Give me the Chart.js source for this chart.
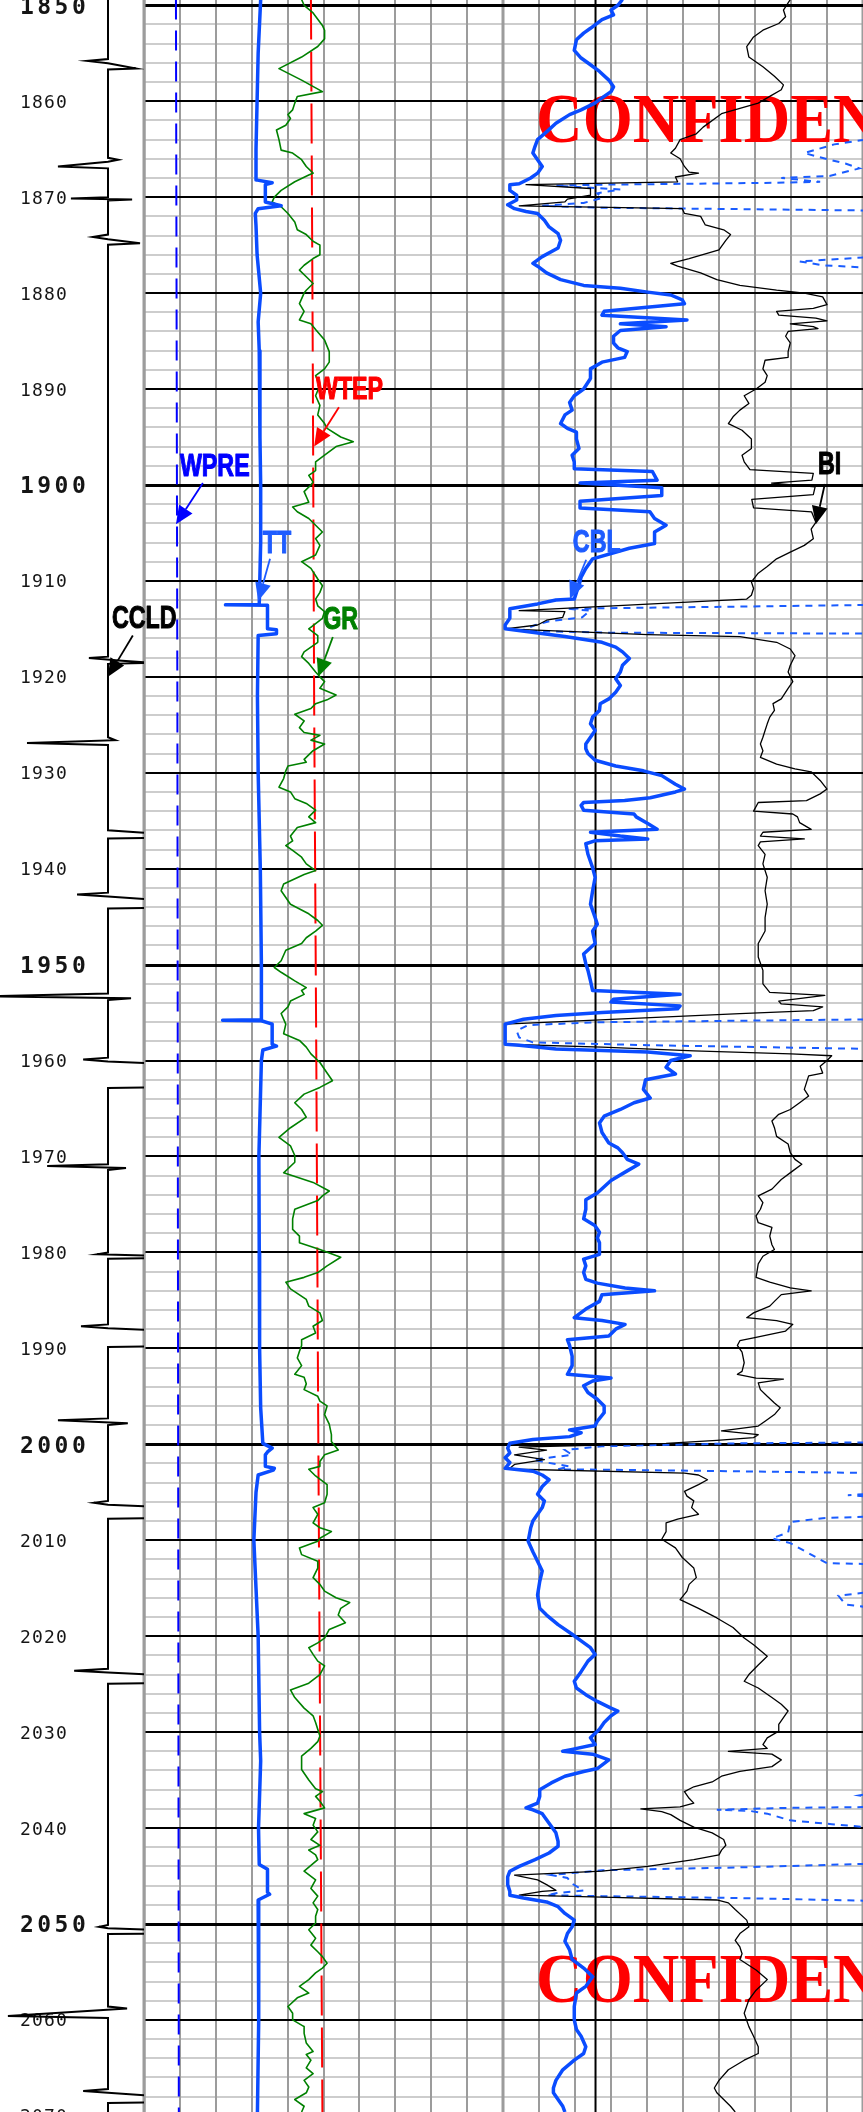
<!DOCTYPE html>
<html>
<head>
<meta charset="utf-8">
<script src="https://cdn.jsdelivr.net/npm/chart.js@4.4.1/dist/chart.umd.min.js"></script>
<style>
  html, body { margin: 0; padding: 0; background: #fff; }
  #wrap { position: relative; width: 863px; height: 2112px; overflow: hidden; background: #fff; }
  #wrap canvas { position: absolute; top: 0; }
  #depthTrack { left: 0; z-index: 2; }
  #track1 { left: 144px; z-index: 1; }
  #track2 { left: 503px; z-index: 1; }
</style>
</head>
<body>
<div id="wrap">
  <canvas id="depthTrack" width="204" height="2112"></canvas>
  <canvas id="track1" width="359" height="2112"></canvas>
  <canvas id="track2" width="360" height="2112"></canvas>
</div>
<script>
// depth window shown on the sheet (ft)
const DEPTH_TOP = 1849.45;
const DEPTH_BOTTOM = 2069.6;
const depthTicks = [1850, 1860, 1870, 1880, 1890, 1900, 1910, 1920, 1930, 1940, 1950,
  1960, 1970, 1980, 1990, 2000, 2010, 2020, 2030, 2040, 2050, 2060, 2070];

// curves: [depth, value] pairs, value in grid divisions of the track (0..10)
const wpreLog = [[1849.4, 0.89], [1886, 0.91], [1923, 0.93], [1960, 0.94], [1996, 0.95], [2033, 0.96], [2069.6, 0.97]];
const wtepLog = [[1849.4, 4.65], [1886, 4.70], [1923, 4.74], [1960, 4.80], [1996, 4.85], [2033, 4.91], [2069.6, 4.97]];

const ttLog = [[1849.4, 3.25], [1855, 3.18], [1860, 3.15], [1865, 3.12], [1868.2, 3.12], [1868.5, 3.57], [1868.7, 3.38],
  [1870.5, 3.38], [1870.9, 3.82], [1871.2, 3.18], [1871.7, 3.10], [1873, 3.12], [1876, 3.15], [1880, 3.25], [1883, 3.18],
  [1886, 3.21], [1895, 3.23], [1900, 3.25], [1906, 3.25], [1912.45, 3.21], [1912.5, 2.27], [1912.55, 3.44], [1915, 3.44],
  [1915.1, 3.69], [1915.5, 3.69], [1915.7, 3.18], [1922, 3.16], [1930, 3.18], [1940, 3.24], [1950, 3.27], [1955.75, 3.27],
  [1955.8, 2.19], [1955.85, 3.27], [1956.2, 3.57], [1958.3, 3.57], [1958.5, 3.69], [1958.9, 3.31], [1960, 3.27], [1970, 3.20],
  [1980, 3.21], [1990, 3.22], [1996.2, 3.25], [1999.9, 3.31], [2000.4, 3.57], [2000.8, 3.44], [2001.1, 3.38], [2002.3, 3.38],
  [2002.5, 3.63], [2002.7, 3.60], [2003.2, 3.18], [2005, 3.12], [2010, 3.06], [2015, 3.12], [2020, 3.18], [2030, 3.22],
  [2033, 3.25], [2040, 3.19], [2043.8, 3.21], [2044.3, 3.44], [2046.7, 3.44], [2046.9, 3.50], [2047.5, 3.18], [2050, 3.20],
  [2060, 3.19], [2069.6, 3.16]];

const grLog = [[1849.4, 4.39], [1850.0, 4.46], [1850.8, 4.71], [1852.1, 4.97], [1852.6, 5.03], [1853.5, 5.03], [1854.3, 4.84],
  [1855.4, 4.39], [1856.6, 3.76], [1857.8, 4.39], [1859.0, 4.97], [1859.5, 4.27], [1860.2, 4.20], [1860.9, 4.14], [1861.4, 4.01],
  [1861.8, 4.08], [1862.5, 3.95], [1863.0, 3.69], [1864.0, 3.76], [1865.1, 3.82], [1865.4, 4.14], [1866.1, 4.39], [1866.8, 4.52],
  [1867.5, 4.71], [1867.7, 4.59], [1868.4, 4.20], [1869.3, 3.82], [1870.0, 3.63], [1870.5, 3.57], [1871.0, 3.82], [1871.7, 4.01],
  [1872.6, 4.20], [1873.4, 4.27], [1873.9, 4.52], [1874.6, 4.71], [1875.0, 4.90], [1876.0, 4.90], [1876.4, 4.71], [1877.1, 4.46],
  [1877.6, 4.33], [1878.3, 4.52], [1879.0, 4.71], [1879.7, 4.52], [1880.0, 4.46], [1881.1, 4.33], [1881.9, 4.46], [1882.8, 4.33],
  [1883.2, 4.65], [1883.8, 4.78], [1884.9, 5.03], [1886.1, 5.16], [1887.2, 5.16], [1887.9, 5.03], [1888.6, 4.78], [1889.6, 4.90],
  [1890.7, 4.78], [1891.7, 4.90], [1892.7, 4.84], [1893.6, 5.03], [1894.1, 5.10], [1895.0, 5.48], [1895.5, 5.83], [1896.0, 5.35],
  [1896.9, 5.03], [1897.6, 4.78], [1898.5, 4.78], [1899.0, 4.59], [1899.7, 4.71], [1900.0, 4.65], [1900.7, 4.46], [1901.8, 4.59],
  [1902.3, 4.14], [1902.8, 4.27], [1903.5, 4.59], [1904.2, 4.78], [1904.9, 4.97], [1905.6, 4.78], [1906.3, 4.90], [1907.3, 4.78],
  [1908.0, 4.39], [1908.7, 4.65], [1909.8, 4.84], [1910.5, 4.97], [1911.2, 4.90], [1911.9, 4.78], [1912.6, 4.84], [1913.2, 5.03],
  [1913.9, 4.97], [1915.0, 4.59], [1915.7, 4.84], [1916.4, 4.84], [1917.4, 4.46], [1917.9, 4.39], [1918.6, 4.59], [1919.5, 4.78],
  [1920.0, 4.90], [1920.5, 5.03], [1921.2, 4.90], [1921.9, 5.35], [1922.4, 5.10], [1922.8, 4.78], [1923.3, 4.65], [1923.9, 4.20],
  [1924.6, 4.46], [1925.3, 4.33], [1925.8, 4.46], [1926.1, 4.90], [1926.6, 4.65], [1927.0, 5.03], [1927.7, 4.71], [1928.6, 4.46],
  [1928.9, 4.52], [1929.3, 4.01], [1929.8, 3.95], [1930.6, 3.89], [1931.5, 3.76], [1932.0, 4.08], [1932.7, 4.20], [1933.2, 4.52],
  [1933.9, 4.78], [1934.6, 4.59], [1935.2, 4.78], [1935.7, 4.27], [1936.6, 4.08], [1937.1, 4.14], [1937.6, 3.95], [1938.1, 4.14],
  [1938.8, 4.39], [1939.5, 4.52], [1940.2, 4.78], [1940.6, 4.46], [1941.6, 3.89], [1942.3, 3.82], [1943.7, 4.08], [1944.7, 4.59],
  [1945.4, 4.84], [1945.9, 4.97], [1946.5, 4.78], [1947.2, 4.52], [1947.8, 4.39], [1948.5, 3.95], [1949.6, 3.82], [1950.3, 3.63],
  [1950.8, 3.82], [1951.7, 4.20], [1952.4, 4.52], [1952.7, 4.39], [1953.1, 4.46], [1953.8, 4.08], [1954.4, 4.01], [1955.1, 3.82],
  [1956.2, 3.95], [1957.2, 3.89], [1957.9, 4.33], [1958.6, 4.52], [1959.3, 4.65], [1960.2, 4.90], [1961.3, 5.10], [1962.1, 5.25],
  [1962.8, 4.90], [1963.5, 4.46], [1964.4, 4.20], [1965.1, 4.39], [1965.9, 4.52], [1967.0, 4.08], [1968.0, 3.76], [1968.9, 4.08],
  [1969.9, 4.20], [1970.6, 4.20], [1971.7, 3.89], [1972.7, 4.71], [1973.6, 5.16], [1974.1, 4.97], [1974.6, 4.84], [1975.5, 4.20],
  [1976.5, 4.14], [1977.6, 4.14], [1978.3, 4.33], [1979.0, 4.33], [1979.7, 4.90], [1980.5, 5.48], [1981.4, 5.10], [1982.1, 4.84],
  [1982.6, 4.46], [1983.1, 3.95], [1983.8, 4.08], [1984.9, 4.52], [1985.6, 4.59], [1986.3, 4.90], [1987.1, 4.97], [1987.7, 4.71],
  [1988.4, 4.78], [1989.1, 4.39], [1989.7, 4.39], [1990.3, 4.33], [1991.0, 4.27], [1991.8, 4.39], [1992.7, 4.20], [1993.0, 4.46],
  [1993.7, 4.52], [1994.3, 4.46], [1995.0, 4.84], [1995.5, 4.90], [1996.0, 5.10], [1996.9, 5.03], [1997.9, 5.16], [1999.0, 5.22],
  [1999.7, 5.22], [2000.6, 5.41], [2001.1, 5.03], [2001.8, 4.90], [2002.3, 4.90], [2002.6, 4.59], [2003.3, 4.78], [2004.2, 5.10],
  [2005.2, 5.10], [2006.1, 5.03], [2006.6, 4.71], [2007.3, 4.84], [2008.2, 4.71], [2008.7, 4.90], [2009.1, 5.22], [2009.8, 4.90],
  [2010.1, 4.84], [2010.8, 4.33], [2011.5, 4.39], [2012.2, 4.84], [2012.9, 4.84], [2013.9, 4.71], [2014.6, 4.90], [2015.3, 5.03],
  [2016.0, 5.35], [2016.5, 5.73], [2017.1, 5.48], [2017.8, 5.41], [2018.6, 5.61], [2019.3, 5.16], [2020.2, 5.03], [2020.7, 4.84],
  [2021.2, 4.59], [2021.9, 4.71], [2022.6, 4.84], [2023.1, 5.03], [2024.0, 4.90], [2024.9, 4.59], [2025.6, 4.08], [2026.4, 4.20],
  [2027.5, 4.46], [2028.3, 4.71], [2029.0, 4.78], [2029.7, 4.84], [2030.4, 4.90], [2031.0, 4.84], [2031.7, 4.65], [2032.5, 4.39],
  [2033.9, 4.39], [2035.0, 4.59], [2035.9, 4.78], [2036.2, 4.97], [2036.7, 4.78], [2037.2, 4.90], [2037.9, 5.03], [2038.5, 4.46],
  [2039.0, 4.78], [2039.7, 4.71], [2040.4, 4.84], [2041.2, 4.65], [2041.8, 4.90], [2042.3, 4.59], [2042.8, 4.78], [2043.3, 4.84],
  [2044.5, 4.46], [2045.4, 4.78], [2046.3, 4.65], [2047.1, 4.84], [2047.8, 4.71], [2048.5, 4.84], [2049.2, 4.78], [2049.9, 4.78],
  [2050.6, 4.59], [2051.5, 4.78], [2052.2, 4.65], [2052.9, 4.84], [2053.4, 4.97], [2054.1, 5.10], [2054.6, 4.97], [2055.1, 4.78],
  [2055.8, 4.59], [2056.5, 4.33], [2057.2, 4.59], [2057.7, 4.27], [2058.6, 4.01], [2059.3, 4.14], [2060.0, 4.14], [2060.7, 4.46],
  [2061.4, 4.46], [2062.4, 4.52], [2063.3, 4.71], [2063.6, 4.52], [2064.2, 4.65], [2065.0, 4.52], [2065.6, 4.71], [2066.3, 4.46],
  [2067.0, 4.59], [2067.6, 4.52], [2068.3, 4.20], [2069.0, 4.46], [2069.6, 4.39]];

const cblLog = [[1849.4, 3.32], [1850.0, 3.19], [1850.5, 3.00], [1851.0, 3.07], [1851.5, 2.75], [1852.4, 2.43], [1852.9, 2.24],
  [1853.6, 2.04], [1854.7, 1.98], [1855.5, 2.17], [1856.2, 2.43], [1856.9, 2.68], [1857.8, 2.94], [1858.5, 3.07], [1859.0, 3.00],
  [1859.5, 2.81], [1860.2, 2.55], [1860.9, 2.17], [1861.4, 1.85], [1862.3, 1.47], [1863.2, 1.21], [1864.0, 0.96], [1864.7, 0.89],
  [1865.4, 0.83], [1866.1, 0.96], [1866.8, 1.09], [1867.5, 0.96], [1868.0, 0.77], [1868.6, 0.45], [1868.7, 0.19], [1869.3, 0.19],
  [1869.8, 0.38], [1870.3, 0.38], [1870.8, 0.13], [1871.2, 0.32], [1871.5, 0.64], [1871.7, 0.96], [1872.4, 1.15], [1873.1, 1.28],
  [1873.8, 1.53], [1874.5, 1.60], [1875.3, 1.53], [1876.2, 1.09], [1876.9, 0.83], [1877.2, 0.96], [1877.9, 1.21], [1878.6, 1.60],
  [1879.2, 2.24], [1879.5, 3.26], [1879.9, 4.02], [1880.2, 4.66], [1880.7, 4.98], [1881.1, 5.04], [1881.9, 2.81], [1882.3, 2.75],
  [1882.8, 5.11], [1883.2, 3.26], [1883.5, 4.53], [1883.9, 3.26], [1884.5, 3.07], [1885.2, 3.07], [1885.7, 3.19], [1886.1, 3.45],
  [1886.7, 3.38], [1887.2, 2.75], [1887.9, 2.43], [1888.9, 2.43], [1890.0, 2.24], [1890.7, 1.98], [1891.4, 1.85], [1892.2, 1.92],
  [1892.7, 1.72], [1893.6, 1.60], [1894.1, 1.79], [1894.5, 2.04], [1895.2, 2.04], [1896.2, 2.11], [1896.9, 1.92], [1897.6, 1.98],
  [1898.3, 1.98], [1898.6, 4.15], [1899.5, 4.28], [1899.8, 2.14], [1900.3, 4.41], [1901.1, 4.41], [1901.7, 2.14], [1902.4, 2.14],
  [1902.8, 4.08], [1903.5, 4.21], [1904.2, 4.53], [1904.9, 4.21], [1906.1, 4.21], [1906.6, 3.51], [1907.7, 2.49], [1908.7, 2.30],
  [1909.6, 2.17], [1910.5, 2.11], [1911.2, 2.04], [1911.9, 1.98], [1912.0, 1.47], [1912.4, 0.96], [1912.9, 0.19], [1913.4, 0.19],
  [1913.9, 0.19], [1914.6, 0.06], [1915.0, 0.06], [1915.3, 0.70], [1915.8, 1.72], [1916.4, 2.75], [1916.9, 3.13], [1917.4, 3.32],
  [1918.1, 3.51], [1918.8, 3.32], [1919.5, 3.26], [1920.2, 3.13], [1920.9, 3.26], [1921.6, 3.13], [1922.3, 2.94], [1922.8, 2.70],
  [1923.5, 2.68], [1924.2, 2.49], [1924.9, 2.43], [1925.6, 2.56], [1926.3, 2.43], [1927.0, 2.30], [1927.5, 2.30], [1928.0, 2.36],
  [1928.7, 2.56], [1929.3, 3.13], [1929.8, 3.90], [1930.3, 4.41], [1931.2, 4.79], [1931.7, 5.04], [1932.0, 4.79], [1932.6, 4.09],
  [1932.9, 3.38], [1933.1, 2.24], [1933.4, 2.17], [1933.9, 2.24], [1934.3, 3.64], [1934.6, 3.70], [1935.3, 4.02], [1935.9, 4.28],
  [1936.2, 2.43], [1936.6, 3.26], [1936.9, 4.02], [1937.1, 2.55], [1937.4, 2.30], [1938.5, 2.36], [1939.9, 2.49], [1940.9, 2.56],
  [1942.3, 2.49], [1943.7, 2.43], [1945.1, 2.56], [1945.8, 2.62], [1946.5, 2.49], [1947.8, 2.56], [1948.9, 2.24], [1949.9, 2.30],
  [1950.6, 2.36], [1951.7, 2.43], [1952.7, 2.49], [1953.1, 4.92], [1953.6, 3.07], [1953.9, 3.00], [1954.3, 4.92], [1954.6, 4.85],
  [1955.0, 2.75], [1955.3, 1.47], [1955.7, 0.57], [1956.2, 0.06], [1957.2, 0.06], [1958.3, 0.06], [1958.4, 0.45], [1958.8, 1.47],
  [1959.1, 4.02], [1959.5, 5.20], [1960.0, 4.66], [1960.7, 4.53], [1961.4, 4.79], [1962.0, 3.96], [1963.0, 3.90], [1963.9, 4.09],
  [1964.4, 3.64], [1965.1, 3.26], [1965.8, 2.81], [1966.5, 2.68], [1967.5, 2.75], [1968.6, 2.94], [1969.1, 3.19], [1969.6, 3.32],
  [1970.3, 3.45], [1970.8, 3.77], [1971.5, 3.45], [1972.5, 3.00], [1973.8, 2.62], [1974.5, 2.30], [1975.5, 2.30], [1976.5, 2.24],
  [1977.2, 2.55], [1977.9, 2.68], [1978.5, 2.62], [1979.0, 2.68], [1980.2, 2.68], [1980.7, 2.24], [1981.4, 2.30], [1982.1, 2.24],
  [1982.8, 2.30], [1983.2, 2.62], [1983.7, 3.39], [1984.0, 4.21], [1984.4, 2.75], [1985.1, 2.68], [1985.9, 2.30], [1986.8, 1.98],
  [1987.1, 2.75], [1987.5, 3.39], [1988.0, 3.13], [1988.7, 2.94], [1989.1, 1.79], [1989.7, 1.85], [1990.8, 1.92], [1991.8, 1.92],
  [1992.7, 1.79], [1993.1, 3.00], [1993.4, 2.49], [1993.9, 2.24], [1994.6, 2.36], [1995.3, 2.62], [1996.0, 2.81], [1996.7, 2.81],
  [1997.6, 2.62], [1998.1, 2.55], [1998.5, 1.85], [1998.8, 2.17], [1999.2, 1.85], [1999.5, 0.83], [1999.9, 0.19], [2000.4, 0.13],
  [2000.9, 0.19], [2001.4, 0.06], [2001.9, 0.19], [2002.5, 0.06], [2002.8, 0.83], [2003.2, 1.09], [2003.7, 1.28], [2004.4, 1.09],
  [2005.2, 0.96], [2005.9, 1.15], [2006.6, 1.09], [2007.3, 0.96], [2008.0, 0.83], [2008.7, 0.77], [2010.1, 0.70], [2011.2, 0.83],
  [2012.2, 0.96], [2013.2, 1.09], [2014.3, 1.02], [2015.7, 0.96], [2017.1, 1.02], [2017.8, 1.21], [2018.8, 1.53], [2019.8, 1.92],
  [2020.5, 2.17], [2021.2, 2.43], [2021.9, 2.56], [2022.6, 2.36], [2023.7, 2.17], [2024.7, 1.98], [2025.4, 2.04], [2026.1, 2.30],
  [2026.8, 2.62], [2027.5, 3.00], [2027.8, 3.19], [2028.3, 3.00], [2029.0, 2.81], [2029.7, 2.68], [2030.6, 2.43], [2031.3, 2.56],
  [2031.8, 1.92], [2032.0, 1.66], [2032.3, 2.49], [2032.9, 2.94], [2033.8, 2.62], [2034.1, 2.24], [2034.6, 1.72], [2035.3, 1.34],
  [2036.0, 1.02], [2036.7, 1.02], [2037.4, 0.96], [2037.9, 0.64], [2038.1, 0.83], [2038.5, 1.09], [2039.5, 1.28], [2040.5, 1.47],
  [2041.4, 1.53], [2041.9, 1.53], [2042.6, 1.28], [2043.3, 0.89], [2044.0, 0.45], [2044.5, 0.19], [2045.1, 0.13], [2045.9, 0.13],
  [2046.6, 0.19], [2047.0, 0.19], [2047.3, 0.57], [2047.7, 1.21], [2048.2, 1.53], [2048.9, 1.72], [2049.6, 1.98], [2050.3, 1.92],
  [2051.0, 1.79], [2051.8, 1.72], [2052.7, 1.85], [2053.7, 1.92], [2054.6, 2.24], [2055.5, 2.49], [2056.5, 2.30], [2057.2, 2.04],
  [2058.6, 1.98], [2060.0, 1.98], [2061.0, 2.04], [2061.7, 2.17], [2062.8, 2.30], [2063.5, 2.24], [2064.2, 1.98], [2065.2, 1.66],
  [2066.3, 1.47], [2067.1, 1.40], [2067.6, 1.40], [2068.3, 1.53], [2069.0, 1.66], [2069.6, 1.72]];

const biLog = [[1849.4, 7.98], [1850.5, 7.79], [1851.2, 7.85], [1851.9, 7.66], [1852.6, 7.22], [1853.3, 6.96], [1854.3, 6.77],
  [1855.4, 6.83], [1856.4, 7.22], [1857.4, 7.54], [1858.3, 7.79], [1858.8, 7.73], [1859.5, 7.41], [1860.2, 7.09], [1861.3, 6.07],
  [1862.7, 5.56], [1863.4, 5.37], [1864.0, 4.92], [1864.9, 4.79], [1865.4, 4.66], [1866.0, 4.92], [1866.8, 5.04], [1867.4, 5.17],
  [1867.5, 5.43], [1867.9, 4.79], [1868.4, 4.85], [1868.7, 0.64], [1869.1, 2.43], [1869.8, 2.43], [1870.2, 1.79], [1870.5, 1.72],
  [1870.9, 0.45], [1871.2, 4.98], [1871.7, 5.04], [1872.0, 5.49], [1872.9, 5.62], [1873.4, 6.13], [1873.9, 6.32], [1874.5, 6.19],
  [1875.5, 6.00], [1876.4, 5.17], [1876.9, 4.66], [1877.2, 4.85], [1877.9, 5.49], [1878.6, 5.94], [1879.2, 6.58], [1879.7, 7.60],
  [1880.0, 8.37], [1880.4, 8.88], [1881.2, 9.00], [1881.6, 8.62], [1881.9, 7.60], [1882.3, 7.66], [1882.6, 8.69], [1882.9, 9.00],
  [1883.2, 7.98], [1883.5, 8.62], [1883.7, 8.75], [1884.0, 7.92], [1884.5, 7.85], [1885.2, 7.98], [1886.1, 7.92], [1886.7, 7.92],
  [1887.0, 7.28], [1887.9, 7.22], [1888.6, 7.34], [1889.3, 7.28], [1890.0, 7.03], [1890.7, 6.70], [1891.5, 6.83], [1892.2, 6.58],
  [1892.9, 6.39], [1893.6, 6.26], [1894.3, 6.64], [1895.2, 6.90], [1896.2, 6.90], [1896.9, 6.64], [1897.6, 6.70], [1898.4, 6.86],
  [1898.8, 8.62], [1899.5, 8.58], [1899.8, 7.46], [1900.2, 8.67], [1901.0, 8.62], [1901.5, 6.91], [1902.4, 6.96], [1902.8, 8.57],
  [1903.9, 8.69], [1904.6, 8.56], [1905.6, 8.62], [1906.3, 8.37], [1907.0, 7.98], [1907.7, 7.60], [1908.5, 7.34], [1909.2, 7.09],
  [1910.1, 6.90], [1910.8, 6.96], [1911.5, 6.90], [1911.9, 6.77], [1913.1, 0.45], [1913.2, 1.72], [1913.8, 1.66], [1914.1, 1.21],
  [1914.6, 0.96], [1915.0, 0.06], [1915.6, 4.02], [1915.8, 6.58], [1916.4, 7.60], [1917.1, 7.98], [1917.8, 8.11], [1918.8, 7.98],
  [1919.5, 7.92], [1920.5, 8.05], [1921.2, 7.92], [1922.3, 7.73], [1922.8, 7.50], [1923.5, 7.54], [1924.2, 7.41], [1924.9, 7.34],
  [1925.6, 7.28], [1926.3, 7.22], [1927.0, 7.15], [1927.7, 7.22], [1928.4, 7.15], [1929.1, 7.60], [1929.6, 8.11], [1929.9, 8.56],
  [1930.8, 8.81], [1931.7, 9.00], [1932.2, 8.81], [1932.9, 8.43], [1933.1, 7.09], [1934.0, 6.96], [1934.3, 8.05], [1934.6, 8.18],
  [1935.2, 8.24], [1935.9, 8.56], [1936.2, 7.22], [1936.6, 7.15], [1936.9, 8.37], [1937.2, 7.15], [1937.6, 7.09], [1938.5, 7.28],
  [1939.5, 7.22], [1940.9, 7.34], [1942.3, 7.28], [1943.7, 7.34], [1945.1, 7.28], [1946.5, 7.28], [1947.8, 7.09], [1949.2, 7.09],
  [1950.6, 7.22], [1952.0, 7.22], [1952.9, 7.41], [1953.2, 8.94], [1953.8, 7.66], [1954.1, 7.73], [1954.4, 8.88], [1954.8, 8.62],
  [1955.1, 6.58], [1956.2, 0.06], [1958.3, 0.06], [1958.6, 2.75], [1959.0, 5.30], [1959.3, 8.00], [1959.5, 9.13], [1960.0, 9.00],
  [1960.6, 8.81], [1961.3, 8.88], [1961.6, 8.49], [1962.3, 8.43], [1963.0, 8.37], [1963.7, 8.49], [1964.4, 8.24], [1965.1, 7.98],
  [1965.6, 7.66], [1966.3, 7.47], [1967.0, 7.54], [1967.9, 7.60], [1968.7, 7.92], [1969.6, 7.98], [1970.3, 8.11], [1970.8, 8.30],
  [1971.5, 8.05], [1972.4, 7.73], [1973.4, 7.47], [1974.1, 7.09], [1974.8, 7.22], [1975.5, 7.15], [1976.2, 7.03], [1976.9, 7.09],
  [1977.4, 7.47], [1978.3, 7.41], [1979.2, 7.47], [1979.7, 7.54], [1980.4, 7.22], [1981.2, 7.09], [1982.6, 7.03], [1983.1, 7.41],
  [1983.7, 7.98], [1984.0, 8.56], [1984.4, 7.73], [1985.1, 7.54], [1985.6, 7.41], [1986.3, 6.96], [1986.8, 6.77], [1987.1, 7.60],
  [1987.5, 8.05], [1988.2, 7.85], [1988.9, 6.96], [1989.2, 6.58], [1989.7, 6.51], [1990.4, 6.64], [1991.5, 6.70], [1992.4, 6.64],
  [1992.7, 6.51], [1993.1, 7.03], [1993.2, 7.79], [1993.6, 7.09], [1994.3, 7.15], [1995.0, 7.34], [1995.7, 7.54], [1996.2, 7.70],
  [1996.9, 7.54], [1997.6, 7.28], [1998.1, 7.09], [1998.6, 6.07], [1999.0, 7.09], [1999.3, 6.96], [1999.6, 5.94], [1999.9, 4.53],
  [2000.1, 2.43], [2000.3, 0.45], [2000.6, 1.21], [2001.1, 0.32], [2001.6, 1.15], [2002.1, 0.32], [2002.5, 0.19], [2002.6, 0.45],
  [2003.0, 5.04], [2003.2, 5.43], [2003.7, 5.68], [2004.2, 5.43], [2004.9, 5.04], [2005.4, 5.11], [2005.9, 5.30], [2006.6, 5.24],
  [2007.3, 5.43], [2007.8, 4.85], [2008.2, 4.53], [2009.1, 4.53], [2009.9, 4.41], [2010.8, 4.79], [2011.8, 4.98], [2012.9, 5.30],
  [2013.9, 5.37], [2014.6, 5.17], [2015.3, 5.11], [2016.2, 4.92], [2017.1, 5.43], [2018.1, 5.94], [2019.1, 6.39], [2020.2, 6.70],
  [2020.9, 6.96], [2022.1, 7.34], [2023.0, 7.09], [2024.0, 6.83], [2024.7, 6.70], [2025.4, 7.09], [2026.4, 7.47], [2027.1, 7.73],
  [2027.8, 7.92], [2028.5, 7.79], [2029.2, 7.66], [2029.9, 7.66], [2030.6, 7.34], [2031.3, 7.22], [2031.7, 7.34], [2032.0, 6.26],
  [2032.3, 7.47], [2032.9, 7.73], [2033.6, 7.47], [2034.1, 6.58], [2034.6, 6.07], [2035.2, 5.81], [2035.7, 5.30], [2036.2, 5.04],
  [2036.9, 5.17], [2037.4, 5.30], [2037.8, 4.92], [2038.0, 3.83], [2038.3, 4.41], [2038.6, 4.66], [2039.2, 4.92], [2039.9, 5.30],
  [2040.5, 5.81], [2041.2, 6.13], [2041.8, 6.19], [2042.3, 6.07], [2042.8, 6.00], [2043.3, 5.30], [2044.0, 4.02], [2044.5, 2.75],
  [2044.9, 0.32], [2045.4, 0.96], [2045.9, 1.21], [2046.5, 1.47], [2046.6, 1.09], [2047.0, 0.45], [2047.2, 2.75], [2047.5, 5.94],
  [2047.8, 6.26], [2048.5, 6.45], [2049.6, 6.77], [2050.3, 6.83], [2051.0, 6.58], [2051.7, 6.45], [2052.4, 6.58], [2053.1, 6.64],
  [2053.7, 6.58], [2054.8, 7.03], [2055.8, 7.34], [2056.9, 7.03], [2057.9, 6.83], [2059.3, 6.70], [2060.7, 6.83], [2061.7, 6.96],
  [2062.8, 7.09], [2063.5, 7.09], [2064.2, 6.70], [2065.2, 6.26], [2066.3, 6.00], [2067.1, 5.87], [2067.6, 5.94], [2068.3, 6.13],
  [2069.0, 6.32], [2069.6, 6.45]];

// amplified CBL (dashed); off scale to the right except where it dips, null = gap
const cblAmpLog = [[1863.8, 10.4], [1864.5, 9.2], [1865.4, 8.37], [1865.8, 8.75], [1866.5, 9.51], [1867.0, 9.90], [1867.8, 9.07],
  [1868.0, 7.73], [1868.4, 8.81], [1868.5, 7.60], [1868.6, 5.30], [1868.7, 2.75], [1868.8, 1.47], [1869.2, 3.26], [1869.6, 2.62],
  [1870.1, 2.75], [1870.6, 2.24], [1870.9, 1.09], [1871.1, 2.75], [1871.2, 5.30], [1871.4, 10.4], [1874.0, null],
  [1876.2, 10.4], [1876.7, 8.24], [1877.1, 8.88], [1877.4, 10.4], [1890.0, null],
  [1912.5, 10.4], [1912.9, 1.78], [1913.1, 2.42], [1913.8, 2.2], [1914.2, 1.3], [1914.6, 0.9], [1915.2, 0.5], [1915.4, 3.0],
  [1915.5, 10.4], [1935.0, null],
  [1955.7, 10.4], [1956.0, 2.75], [1956.3, 0.70], [1956.9, 0.38], [1957.6, 0.45], [1958.1, 0.83], [1958.4, 4.02], [1958.8, 10.4],
  [1980.0, null],
  [1999.8, 10.4], [1999.9, 6.58], [2000.2, 2.75], [2000.6, 1.72], [2001.1, 1.92], [2001.6, 0.83], [2001.9, 1.21], [2002.3, 1.85],
  [2002.6, 1.53], [2002.7, 4.02], [2003.0, 10.4], [2004.0, null],
  [2005.1, 10.4], [2005.3, 9.58], [2005.5, 10.4], [2006.5, null],
  [2007.5, 10.4], [2007.7, 8.88], [2008.1, 7.98], [2009.2, 7.92], [2009.8, 7.47], [2010.3, 7.98], [2011.5, 8.56], [2012.4, 9.00],
  [2012.5, 10.4], [2014.0, null],
  [2015.3, 10.4], [2015.8, 9.32], [2016.7, 9.51], [2017.1, 10.4], [2030.0, null],
  [2036.3, 10.4], [2036.6, 9.9], [2036.9, 10.4], [2037.3, null],
  [2037.8, 10.4], [2037.9, 7.85], [2038.1, 5.94], [2038.2, 6.83], [2038.5, 7.34], [2039.2, 7.98], [2039.6, 9.13], [2040.0, 10.4],
  [2042.0, null],
  [2043.7, 10.4], [2044.1, 6.58], [2044.4, 2.75], [2044.9, 1.34], [2045.2, 1.79], [2045.8, 1.92], [2046.5, 2.24], [2046.8, 1.47],
  [2047.0, 1.21], [2047.1, 2.75], [2047.3, 6.58], [2047.6, 10.4]];

const cblRefLog = [[DEPTH_TOP, 2.57], [DEPTH_BOTTOM, 2.57]];

// casing collar locator, 0 = baseline
const ccldLog = [[1849.4, 0], [1855.6, 0], [1855.8, -0.58], [1856.05, 0], [1856.6, 0.78], [1856.7, 0],
  [1865.9, 0], [1866.1, 0.28], [1866.3, 0], [1866.8, -1.39], [1867.0, 0],
  [1870.0, 0], [1870.15, -1.03], [1870.25, 0.67], [1870.35, 0],
  [1873.9, 0], [1874.15, -0.42], [1874.4, 0], [1874.8, 0.89], [1874.95, 0],
  [1917.9, 0], [1918.05, -0.53], [1918.3, 0.3], [1918.55, 1.2], [1918.65, 0],
  [1926.3, 0], [1926.6, 0.2], [1926.9, -2.25], [1927.1, 0],
  [1936.0, 0], [1936.3, 1.2], [1936.8, 1.2], [1936.85, 0],
  [1942.5, 0], [1942.7, -0.86], [1942.9, 0], [1943.2, 1.2], [1944.1, 1.2], [1944.15, 0],
  [1953.0, 0], [1953.3, -3.2], [1953.5, 0.64], [1953.7, 0],
  [1959.7, 0], [1959.9, -0.69], [1960.1, 0], [1960.3, 1.2], [1962.8, 1.2], [1962.85, 0],
  [1970.8, 0], [1971.0, -1.69], [1971.2, 0.5], [1971.4, 0],
  [1980.0, 0], [1980.2, -0.3], [1980.35, 1.2], [1980.6, 1.2], [1980.65, 0],
  [1987.5, 0], [1987.7, -0.75], [1987.9, 0], [1988.1, 1.2], [1989.8, 1.2], [1989.85, 0],
  [1997.3, 0], [1997.5, -1.39], [1997.8, 0.55], [1998.0, 0],
  [2005.9, 0], [2006.1, -0.39], [2006.3, 0], [2006.5, 1.2], [2007.7, 1.2], [2007.75, 0],
  [2023.4, 0], [2023.6, -0.94], [2023.8, 0], [2024.0, 1.2], [2024.9, 1.2], [2024.95, 0],
  [2050.1, 0], [2050.3, -0.25], [2050.45, 0], [2050.6, 1.2], [2051.0, 1.2], [2051.05, 0],
  [2058.6, 0], [2058.8, 0.53], [2059.6, -2.78], [2059.8, 0],
  [2067.2, 0], [2067.4, -0.69], [2067.6, 0], [2067.9, 1.2], [2068.6, 1.2], [2068.65, 0], [2069.6, 0]];

// ---------- helpers ----------
const toPoints = log => log.map(([d, v]) => ({ x: v, y: d }));

const curve = (log, color, width, dash, join) => ({
  data: toPoints(log),
  showLine: true,
  borderColor: color,
  borderWidth: width,
  borderDash: dash || [],
  borderJoinStyle: join || 'round',
  pointRadius: 0,
  pointHoverRadius: 0,
  fill: false,
  tension: 0
});

function line(ctx, x0, y0, x1, y1, color, w) {
  ctx.strokeStyle = color;
  ctx.lineWidth = w;
  ctx.beginPath();
  ctx.moveTo(x0, y0);
  ctx.lineTo(x1, y1);
  ctx.stroke();
}

function arrow(ctx, x0, y0, x1, y1, color) {
  const ang = Math.atan2(y1 - y0, x1 - x0);
  const len = 18, half = 8;
  const bx = x1 - len * Math.cos(ang), by = y1 - len * Math.sin(ang);
  line(ctx, x0, y0, bx, by, color, 1.8);
  ctx.fillStyle = color;
  ctx.beginPath();
  ctx.moveTo(x1, y1);
  ctx.lineTo(bx + half * Math.sin(ang), by - half * Math.cos(ang));
  ctx.lineTo(bx - half * Math.sin(ang), by + half * Math.cos(ang));
  ctx.closePath();
  ctx.fill();
}

// grid of a track: 2 ft light lines, 10 divisions, 10 ft / 50 ft dark lines
const trackGrid = {
  id: 'trackGrid',
  beforeDatasetsDraw(chart) {
    const { ctx, chartArea: a, scales: { x, y } } = chart;
    ctx.save();
    for (let d = depthTicks[0]; d <= depthTicks[depthTicks.length - 1]; d += 2) {
      if (d % 10 === 0) continue;
      const py = Math.round(y.getPixelForValue(d));
      line(ctx, a.left, py, a.right, py, '#cdcdcd', 2);
    }
    for (let i = x.min; i <= x.max; i++) {
      const px = Math.round(x.getPixelForValue(i));
      const edge = i === x.min || i === x.max;
      line(ctx, px, a.top, px, a.bottom, '#9c9c9c', edge ? 3 : 2);
    }
    depthTicks.forEach(d => {
      const heavy = d % 50 === 0;
      const py = Math.round(y.getPixelForValue(d)) + (heavy ? 0.5 : 0);
      line(ctx, a.left, py, a.right, py, '#000', heavy ? 3 : 2);
    });
    ctx.restore();
  }
};

const stampDepths = [1864.2, 2058.1];
const stamp = {
  id: 'stamp',
  beforeDatasetsDraw(chart) {
    const { ctx, scales: { x, y } } = chart;
    ctx.save();
    ctx.fillStyle = '#ff0000';
    ctx.font = 'bold 70px "Liberation Serif", "Times New Roman", serif';
    ctx.textBaseline = 'alphabetic';
    stampDepths.forEach(d => {
      ctx.save();
      ctx.translate(x.getPixelForValue(0.92), y.getPixelForValue(d));
      ctx.scale(0.92, 1);
      ctx.fillText('CONFIDENTIAL', 0, 0);
      ctx.restore();
    });
    ctx.restore();
  }
};

// curve name tags with arrows: text at [value, depth], arrow from -> tip
function callouts(items) {
  return {
    id: 'callouts',
    afterDatasetsDraw(chart) {
      const { ctx, scales: { x, y } } = chart;
      ctx.save();
      items.forEach(it => {
        ctx.save();
        ctx.translate(x.getPixelForValue(it.at[0]), y.getPixelForValue(it.at[1]));
        ctx.scale(0.75, 1);
        ctx.font = 'bold 31px "Liberation Sans", Arial, sans-serif';
        ctx.fillStyle = it.color;
        ctx.strokeStyle = it.color;
        ctx.lineWidth = 1.1;
        ctx.lineJoin = 'round';
        ctx.textBaseline = 'alphabetic';
        ctx.fillText(it.text, 0, 0);
        ctx.strokeText(it.text, 0, 0);
        ctx.restore();
        arrow(ctx, x.getPixelForValue(it.from[0]), y.getPixelForValue(it.from[1]),
          x.getPixelForValue(it.tip[0]), y.getPixelForValue(it.tip[1]), it.color);
      });
      ctx.restore();
    }
  };
}

const depthLabels = {
  id: 'depthLabels',
  beforeDatasetsDraw(chart) {
    const { ctx, chartArea: a, scales: { y } } = chart;
    ctx.save();
    ctx.fillStyle = '#151515';
    ctx.textAlign = 'left';
    ctx.textBaseline = 'alphabetic';
    depthTicks.forEach(d => {
      const bold = d % 50 === 0;
      ctx.font = bold ? 'bold 23px "DejaVu Sans Mono", monospace' : '18px "DejaVu Sans Mono", monospace';
      const step = bold ? 17.3 : 12;
      const base = y.getPixelForValue(d) + (bold ? 8.4 : 6.5);
      String(d).split('').forEach((ch, i) => ctx.fillText(ch, 20 + i * step, base));
    });
    line(ctx, a.right, a.top, a.right, a.bottom, '#9c9c9c', 3);
    ctx.restore();
  }
};

const yScale = { type: 'linear', reverse: true, min: DEPTH_TOP, max: DEPTH_BOTTOM, display: false };

function makeChart(id, datasets, xScale, plugins, padding) {
  return new Chart(document.getElementById(id), {
    type: 'scatter',
    data: { datasets },
    options: {
      responsive: false,
      maintainAspectRatio: false,
      devicePixelRatio: 1,
      animation: false,
      events: [],
      layout: { padding: padding || 0 },
      scales: { x: xScale, y: yScale },
      plugins: { legend: { display: false }, tooltip: { enabled: false } }
    },
    plugins
  });
}

const BLUE = '#0a4cff';

makeChart('depthTrack',
  [curve(ccldLog, '#000', 2, [], 'miter')],
  { type: 'linear', min: -3, max: 1, display: false },
  [depthLabels, callouts([
    { text: 'CCLD', color: '#000', at: [0.11, 1914.9], from: [0.69, 1915.7], tip: [0, 1920.0] }
  ])],
  { right: 60 });

makeChart('track1',
  [
    curve(ttLog, BLUE, 3.5),
    curve(grLog, '#008000', 1.6),
    curve(wtepLog, '#ff0000', 2, [40, 12]),
    curve(wpreLog, '#0000ff', 2, [20, 11])
  ],
  { type: 'linear', min: 0, max: 10, display: false },
  [trackGrid, callouts([
    { text: 'WPRE', color: '#0000ff', at: [1.0, 1899.07], from: [1.64, 1899.8], tip: [0.89, 1904.1] },
    { text: 'TT', color: '#1e5cff', at: [3.31, 1907.1], from: [3.51, 1907.7], tip: [3.18, 1912.1] },
    { text: 'WTEP', color: '#ff0000', at: [4.79, 1891.0], from: [5.43, 1891.9], tip: [4.74, 1896.0] },
    { text: 'GR', color: '#008000', at: [4.99, 1915.0], from: [5.26, 1915.85], tip: [4.85, 1920.0] }
  ])]);

makeChart('track2',
  [
    curve(cblLog, BLUE, 3.5),
    curve(biLog, '#000', 1.3),
    curve(cblAmpLog, '#1a5cff', 2, [7, 6], 'miter'),
    curve(cblRefLog, '#000', 2)
  ],
  { type: 'linear', min: 0, max: 10, display: false },
  [trackGrid, stamp, callouts([
    { text: 'CBL', color: '#1e5cff', at: [1.94, 1907.0], from: [2.31, 1907.8], tip: [1.86, 1911.9] },
    { text: 'BI', color: '#000', at: [8.75, 1898.9], from: [8.94, 1899.9], tip: [8.69, 1904.1] }
  ])]);
</script>
</body>
</html>
